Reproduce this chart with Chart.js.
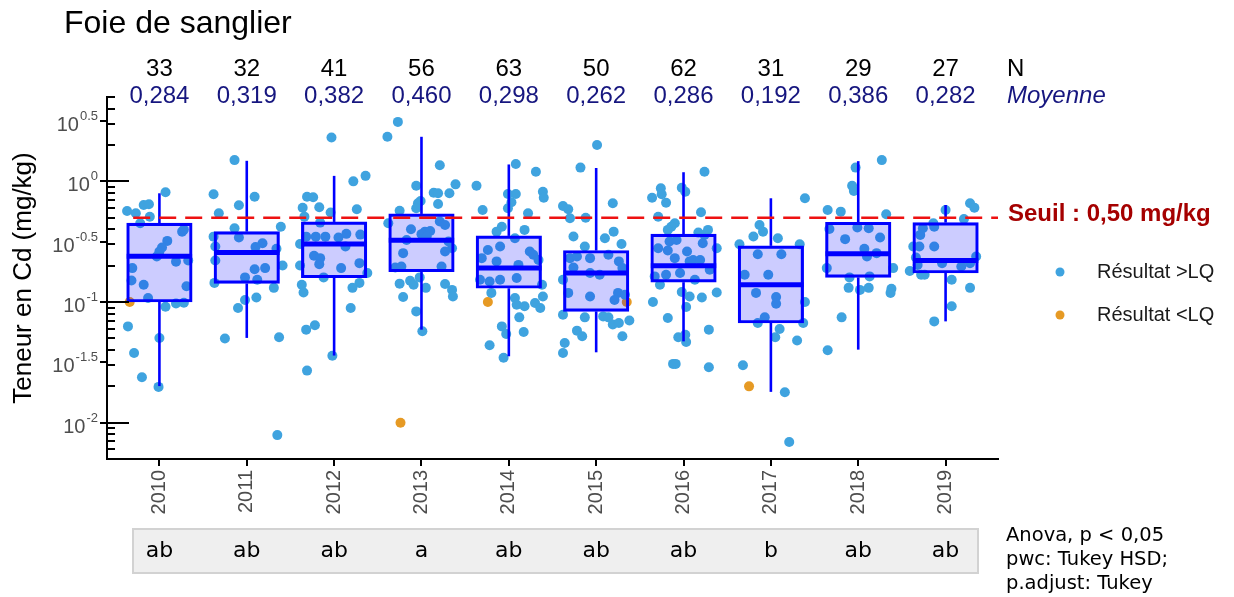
<!DOCTYPE html>
<html lang="fr">
<head>
<meta charset="utf-8">
<title>Foie de sanglier</title>
<script src="https://cdn.jsdelivr.net/npm/chart.js@4.4.1/dist/chart.umd.min.js"></script>
<style>
  html, body { margin:0; padding:0; background:#fff; }
  #wrap { width:1234px; height:597px; position:relative; }
</style>
</head>
<body>
<div id="wrap"><canvas id="chart"></canvas></div>
<script>
const years = [2010, 2011, 2012, 2013, 2014, 2015, 2016, 2017, 2018, 2019];
const nCounts = [33, 32, 41, 56, 63, 50, 62, 31, 29, 27];
const means = [0.284, 0.319, 0.382, 0.460, 0.298, 0.262, 0.286, 0.192, 0.386, 0.282];
const groupLetters = ['ab', 'ab', 'ab', 'a', 'ab', 'ab', 'ab', 'b', 'ab', 'ab'];

// box statistics (mg/kg)
const whiskerLow = [0.0201, 0.0504, 0.036, 0.059, 0.0355, 0.0383, 0.0472, 0.0180, 0.0403, 0.0691];
const q1 = [0.100, 0.1425, 0.159, 0.178, 0.130, 0.0836, 0.146, 0.0670, 0.160, 0.174];
const medians = [0.240, 0.257, 0.303, 0.325, 0.191, 0.174, 0.200, 0.139, 0.251, 0.221];
const q3 = [0.450, 0.383, 0.461, 0.537, 0.353, 0.267, 0.365, 0.292, 0.458, 0.455];
const whiskerHigh = [0.796, 1.48, 1.11, 2.34, 1.38, 1.29, 1.19, 0.724, 1.47, 0.637];

const seuil = 0.5;
const yTickExponents = [0.5, 0, -0.5, -1, -1.5, -2];

// individual results > LQ : [jitter, value]
const pts2010 = [[-0.37,0.568],[-0.27,0.544],[-0.18,0.637],[-0.12,0.645],[-0.11,0.509],[-0.22,0.450],[0.07,0.811],[0.26,0.383],[0.28,0.398],[0.09,0.321],[0.03,0.283],[0.00,0.262],[-0.03,0.238],[0.19,0.216],[0.33,0.221],[-0.31,0.191],[-0.32,0.151],[-0.18,0.139],[0.31,0.135],[-0.13,0.108],[0.07,0.0914],[0.19,0.0973],[0.28,0.0986],[-0.36,0.0628],[0.00,0.0504],[-0.29,0.0378],[-0.20,0.0238],[-0.01,0.0198]];
const pts2011 = [[-0.14,1.50],[-0.38,0.781],[0.09,0.746],[-0.09,0.634],[-0.32,0.544],[0.39,0.421],[-0.14,0.409],[-0.38,0.348],[-0.36,0.288],[-0.09,0.342],[0.18,0.307],[0.10,0.285],[0.34,0.276],[-0.36,0.221],[0.41,0.201],[0.21,0.191],[0.09,0.187],[-0.02,0.160],[0.12,0.153],[-0.37,0.144],[0.31,0.131],[-0.02,0.104],[0.11,0.109],[-0.10,0.0891],[-0.25,0.0498],[0.37,0.0510],[0.35,0.00789]];
const pts2012 = [[-0.03,2.31],[0.36,1.11],[0.22,1.00],[-0.31,0.746],[-0.24,0.738],[-0.36,0.605],[-0.17,0.610],[0.26,0.587],[-0.04,0.551],[-0.34,0.510],[-0.16,0.455],[-0.32,0.348],[-0.21,0.348],[-0.10,0.348],[0.05,0.342],[0.14,0.367],[0.30,0.362],[-0.39,0.303],[0.13,0.288],[-0.23,0.242],[-0.16,0.231],[-0.17,0.206],[-0.39,0.201],[0.08,0.191],[0.29,0.210],[0.38,0.174],[-0.12,0.160],[-0.37,0.139],[0.29,0.144],[0.21,0.131],[-0.35,0.120],[0.19,0.0891],[-0.32,0.0590],[-0.22,0.0641],[-0.02,0.0359],[-0.31,0.0270]];
const pts2013 = [[-0.27,3.11],[-0.39,2.34],[0.21,1.36],[0.39,0.944],[-0.06,0.920],[0.14,0.805],[0.19,0.796],[0.32,0.796],[-0.01,0.687],[-0.04,0.658],[0.19,0.649],[-0.25,0.571],[-0.06,0.598],[-0.38,0.450],[-0.12,0.401],[0.21,0.464],[0.04,0.383],[0.10,0.388],[0.00,0.365],[-0.17,0.327],[0.35,0.279],[0.27,0.262],[-0.21,0.254],[0.23,0.197],[-0.30,0.193],[-0.23,0.197],[-0.02,0.160],[-0.13,0.150],[-0.09,0.139],[-0.25,0.142],[0.05,0.131],[0.27,0.141],[0.35,0.126],[0.36,0.111],[-0.21,0.110],[-0.06,0.0836],[0.01,0.0572],[0.31,0.317],[0.27,0.435],[0.06,0.349]];
const pts2014 = [[0.08,1.39],[0.31,1.20],[-0.37,0.920],[0.39,0.820],[0.40,0.732],[0.08,0.785],[-0.01,0.785],[0.03,0.670],[-0.30,0.579],[-0.01,0.598],[0.22,0.544],[-0.08,0.421],[0.18,0.396],[-0.14,0.383],[0.07,0.338],[-0.24,0.270],[-0.10,0.288],[0.24,0.262],[0.28,0.246],[-0.31,0.231],[-0.14,0.217],[0.11,0.203],[0.34,0.223],[-0.33,0.153],[-0.22,0.148],[-0.10,0.153],[0.09,0.158],[0.38,0.139],[-0.20,0.119],[0.07,0.108],[0.09,0.0950],[0.18,0.0921],[0.30,0.0982],[0.39,0.111],[0.36,0.0891],[0.12,0.0746],[-0.08,0.0628],[-0.03,0.0544],[0.17,0.0565],[-0.22,0.0438],[-0.06,0.0345]];
const pts2015 = [[0.01,2.00],[-0.18,1.30],[0.19,0.658],[-0.38,0.625],[-0.32,0.587],[-0.30,0.494],[-0.12,0.500],[0.20,0.383],[-0.26,0.349],[0.10,0.338],[0.29,0.303],[-0.13,0.288],[-0.30,0.231],[-0.22,0.238],[-0.07,0.231],[0.14,0.246],[0.26,0.217],[0.30,0.191],[-0.26,0.193],[-0.07,0.174],[0.04,0.168],[-0.38,0.153],[-0.32,0.119],[-0.07,0.111],[0.25,0.119],[0.21,0.104],[0.33,0.115],[-0.38,0.0785],[-0.13,0.0746],[0.08,0.0760],[0.14,0.0746],[0.19,0.0650],[0.26,0.0671],[0.38,0.0702],[-0.22,0.0579],[-0.16,0.0520],[-0.36,0.0458],[-0.38,0.0378],[0.30,0.0520]];
const pts2016 = [[0.24,1.20],[-0.02,0.885],[0.02,0.820],[-0.26,0.875],[-0.25,0.781],[-0.36,0.732],[-0.20,0.665],[0.20,0.554],[-0.29,0.509],[-0.10,0.450],[-0.14,0.421],[-0.18,0.396],[0.28,0.396],[0.17,0.376],[0.24,0.360],[-0.16,0.317],[-0.08,0.327],[0.22,0.307],[0.38,0.279],[-0.29,0.279],[-0.18,0.267],[0.04,0.262],[-0.10,0.231],[0.11,0.223],[0.19,0.223],[0.07,0.217],[0.30,0.185],[-0.33,0.163],[-0.20,0.168],[-0.04,0.174],[0.13,0.153],[-0.27,0.139],[-0.02,0.121],[0.07,0.111],[0.21,0.109],[0.38,0.120],[-0.35,0.100],[0.03,0.0910],[-0.18,0.0738],[0.29,0.0590],[-0.06,0.0510],[0.02,0.0536],[0.03,0.0467],[-0.12,0.0307],[-0.09,0.0307],[0.29,0.0288]];
const pts2017 = [[0.39,0.724],[-0.13,0.435],[-0.09,0.383],[-0.20,0.349],[0.08,0.338],[-0.36,0.301],[0.33,0.301],[-0.15,0.249],[0.12,0.249],[-0.30,0.168],[-0.03,0.168],[-0.17,0.119],[0.06,0.110],[0.06,0.0968],[0.39,0.100],[-0.07,0.0746],[-0.15,0.0671],[0.37,0.0671],[0.10,0.0598],[0.05,0.0510],[0.30,0.0479],[-0.32,0.0299],[0.16,0.0179],[0.21,0.00692]];
const pts2018 = [[0.27,1.50],[-0.03,1.30],[-0.07,0.920],[-0.05,0.832],[-0.35,0.579],[-0.20,0.561],[0.32,0.533],[-0.33,0.403],[-0.01,0.414],[0.12,0.409],[-0.15,0.332],[0.25,0.342],[0.07,0.276],[0.10,0.238],[0.21,0.254],[-0.36,0.191],[0.40,0.191],[-0.10,0.160],[0.13,0.163],[-0.11,0.131],[0.02,0.126],[0.12,0.131],[0.38,0.129],[0.37,0.119],[-0.19,0.0746],[-0.35,0.0398]];
const pts2019 = [[0.00,0.579],[0.28,0.658],[0.33,0.605],[0.21,0.487],[-0.14,0.450],[-0.13,0.421],[-0.26,0.409],[-0.29,0.360],[-0.37,0.288],[-0.30,0.288],[-0.13,0.288],[-0.34,0.234],[-0.32,0.203],[-0.41,0.181],[-0.28,0.168],[-0.24,0.168],[-0.04,0.210],[0.18,0.197],[0.28,0.210],[0.35,0.238],[0.07,0.153],[0.28,0.131],[0.07,0.0921],[-0.13,0.0691]];

// results < LQ : [year, jitter, value]
const ptsBelowLQ = [[2010,-0.34,0.100],[2013,-0.24,0.0100],[2014,-0.24,0.100],[2015,0.35,0.100],[2017,-0.25,0.0200]];

const SANS = '"Liberation Sans", Arial, Helvetica, sans-serif';
const DEJAVU = '"DejaVu Sans", Verdana, sans-serif';
const NAVY = '#16167f';
const BLUE = '#0000ff';
const PT_BLUE = '#3fa3df';
const PT_ORANGE = '#e69a24';

const ptsByYear = [pts2010, pts2011, pts2012, pts2013, pts2014, pts2015, pts2016, pts2017, pts2018, pts2019];
const abovePoints = [];
ptsByYear.forEach((list, i) => {
  for (const [j, v] of list) abovePoints.push({ x: years[i] + j, y: v });
});
const belowPoints = ptsBelowLQ.map(([yr, j, v]) => ({ x: yr + j, y: v }));

const fmt = v => v.toFixed(3).replace('.', ',');

const overlay = {
  id: 'overlay',
  afterDraw(chart){
    const { ctx, chartArea } = chart;
    const xs = chart.scales.x, ys = chart.scales.y;
    const left = chartArea.left;
    ctx.save();

    // title
    ctx.fillStyle = '#000';
    ctx.font = `32px ${SANS}`;
    ctx.textAlign = 'left';
    ctx.textBaseline = 'alphabetic';
    ctx.fillText('Foie de sanglier', 64, 33);

    // N and mean rows
    ctx.font = `24px ${SANS}`;
    ctx.textAlign = 'center';
    years.forEach((yr, i) => {
      const px = xs.getPixelForValue(yr);
      ctx.fillStyle = '#000';
      ctx.fillText(String(nCounts[i]), px, 76);
      ctx.fillStyle = NAVY;
      ctx.fillText(fmt(means[i]), px, 103);
    });
    ctx.textAlign = 'left';
    ctx.fillStyle = '#000';
    ctx.fillText('N', 1007, 76);
    ctx.font = `italic 24px ${SANS}`;
    ctx.fillStyle = NAVY;
    ctx.fillText('Moyenne', 1007, 103);

    // log ticks on the y axis
    ctx.strokeStyle = '#000';
    ctx.lineWidth = 2;
    ctx.beginPath();
    for (const base of [0.001, 0.01, 0.1, 1]) {
      for (let m = 1; m <= 9; m++) {
        const v = base * m;
        if (v < ys.min || v > ys.max) continue;
        const py = Math.round(ys.getPixelForValue(v));
        ctx.moveTo(left, py);
        ctx.lineTo(left + (m === 1 ? 22 : 8), py);
      }
    }
    for (const e of yTickExponents) {
      const py = Math.round(ys.getPixelForValue(Math.pow(10, e)));
      ctx.moveTo(left - 7, py);
      ctx.lineTo(left, py);
    }
    ctx.stroke();

    // y tick labels 10^e
    ctx.fillStyle = '#4d4d4d';
    ctx.textAlign = 'left';
    for (const e of yTickExponents) {
      const py = ys.getPixelForValue(Math.pow(10, e));
      const sup = String(e);
      ctx.font = `13px ${SANS}`;
      const wSup = ctx.measureText(sup).width;
      ctx.font = `20px ${SANS}`;
      const wBase = ctx.measureText('10').width;
      const x0 = left - 10 - wSup - wBase;
      ctx.fillText('10', x0, py + 10);
      ctx.font = `13px ${SANS}`;
      ctx.fillText(sup, x0 + wBase + 1, py - 1);
    }

    // threshold label and legend
    ctx.textBaseline = 'middle';
    ctx.font = `bold 24px ${SANS}`;
    ctx.fillStyle = '#a50000';
    ctx.fillText('Seuil : 0,50 mg/kg', 1008, ys.getPixelForValue(seuil) - 3);

    const legend = [['Résultat >LQ', PT_BLUE, 272], ['Résultat <LQ', PT_ORANGE, 315]];
    ctx.font = `20px ${SANS}`;
    for (const [txt, col, py] of legend) {
      ctx.fillStyle = col;
      ctx.beginPath();
      ctx.arc(1060, py, 4.5, 0, Math.PI * 2);
      ctx.fill();
      ctx.fillStyle = '#1a1a1a';
      ctx.fillText(txt, 1097, py);
    }

    // group letters
    ctx.fillStyle = '#efefef';
    ctx.strokeStyle = '#d2d2d2';
    ctx.lineWidth = 2;
    ctx.beginPath();
    ctx.rect(133, 529, 845, 44);
    ctx.fill();
    ctx.stroke();
    ctx.fillStyle = '#000';
    ctx.textAlign = 'center';
    ctx.font = `22px ${DEJAVU}`;
    years.forEach((yr, i) => {
      ctx.fillText(groupLetters[i], xs.getPixelForValue(yr), 551);
    });

    ctx.textAlign = 'left';
    ctx.textBaseline = 'alphabetic';
    ctx.font = `19.5px ${DEJAVU}`;
    ['Anova, p < 0,05', 'pwc: Tukey HSD;', 'p.adjust: Tukey'].forEach((t, i) => {
      ctx.fillText(t, 1006, 541 + i * 24);
    });

    ctx.restore();
  }
};

Chart.defaults.font.family = SANS;

new Chart(document.getElementById('chart'), {
  type: 'scatter',
  data: {
    datasets: [
      {
        type: 'line', label: 'Seuil',
        data: [{ x: 2009.7, y: seuil }, { x: 2019.6, y: seuil }],
        borderColor: '#ee1111', borderWidth: 2.5, borderDash: [17, 9],
        pointRadius: 0, fill: false, order: 1
      },
      {
        type: 'scatter', label: 'Médiane',
        data: years.map((yr, i) => ({ x: yr, y: medians[i] })),
        pointStyle: 'line', pointRadius: 32.7,
        pointBorderColor: BLUE, pointBorderWidth: 5, order: 2
      },
      {
        type: 'bar', label: 'Boîte',
        data: years.map((yr, i) => ({ x: yr, y: [q1[i], q3[i]] })),
        backgroundColor: 'rgba(0,0,255,0.2)', borderColor: BLUE, borderWidth: 2.5,
        borderSkipped: false, barThickness: 65.5, grouped: false, order: 3
      },
      {
        type: 'bar', label: 'Moustache basse',
        data: years.map((yr, i) => ({ x: yr, y: [whiskerLow[i], q1[i]] })),
        backgroundColor: BLUE, borderWidth: 0, inflateAmount: 0, barThickness: 2.6, grouped: false, order: 4
      },
      {
        type: 'bar', label: 'Moustache haute',
        data: years.map((yr, i) => ({ x: yr, y: [q3[i], whiskerHigh[i]] })),
        backgroundColor: BLUE, borderWidth: 0, inflateAmount: 0, barThickness: 2.6, grouped: false, order: 4
      },
      {
        type: 'scatter', label: 'Résultat >LQ', data: abovePoints,
        pointBackgroundColor: PT_BLUE, pointBorderWidth: 0, pointRadius: 5, order: 5
      },
      {
        type: 'scatter', label: 'Résultat <LQ', data: belowPoints,
        pointBackgroundColor: PT_ORANGE, pointBorderWidth: 0, pointRadius: 5, order: 5
      }
    ]
  },
  options: {
    responsive: true,
    maintainAspectRatio: false,
    animation: false,
    events: [],
    layout: { padding: { top: 97, right: 236, bottom: 0, left: 0 } },
    plugins: { legend: { display: false }, tooltip: { enabled: false } },
    scales: {
      x: {
        type: 'linear', min: 2009.4, max: 2019.6, offset: false,
        afterBuildTicks: s => { s.ticks = years.map(v => ({ value: v })); },
        afterFit: s => { s.height = 138; },
        grid: { display: true, drawOnChartArea: false, drawTicks: true, tickLength: 7, color: '#000', lineWidth: 2, offset: false },
        border: { display: true, color: '#000', width: 2 },
        ticks: {
          autoSkip: false, minRotation: 90, maxRotation: 90, padding: 4,
          color: '#4d4d4d', font: { size: 20, family: SANS },
          callback: v => String(v)
        }
      },
      y: {
        type: 'logarithmic', min: 0.005, max: 5,
        afterFit: s => { s.width = 107; },
        grid: { display: false },
        border: { display: true, color: '#000', width: 2 },
        ticks: { display: false },
        title: {
          display: true, text: 'Teneur en Cd (mg/kg)', color: '#000',
          font: { size: 26, family: SANS }, padding: { top: 8, bottom: 0 }
        }
      }
    }
  },
  plugins: [overlay]
});
</script>
</body>
</html>
